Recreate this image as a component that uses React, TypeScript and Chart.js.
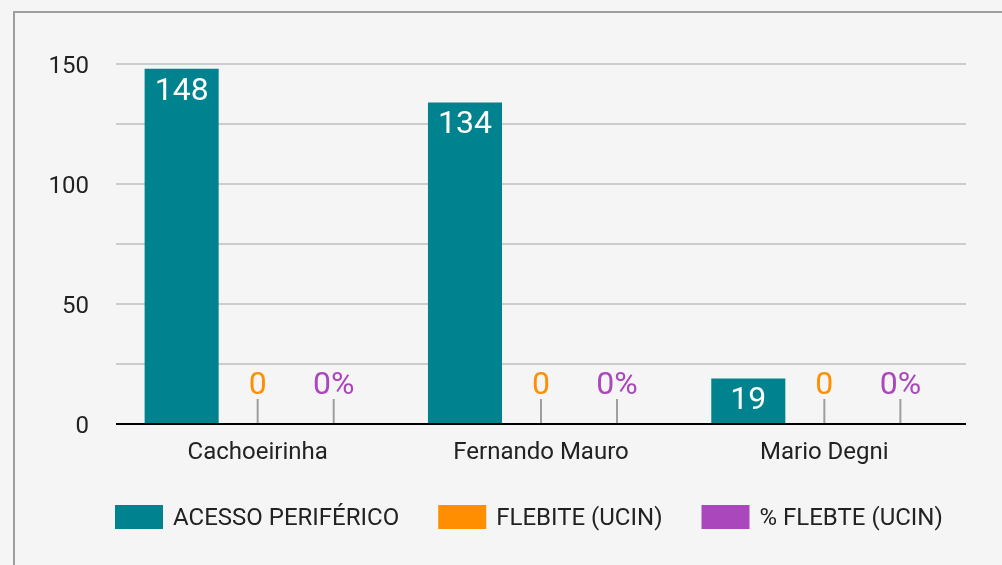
import React, { useEffect, useRef } from 'react';
import { Chart, registerables } from 'chart.js';

Chart.register(...registerables);

const categories = ['Cachoeirinha', 'Fernando Mauro', 'Mario Degni'];
const acessoPeriferico = [148, 134, 19];
const flebiteUcin = [0, 0, 0];
const percentFlebteUcin = [0, 0, 0];
const seriesLabels = ['ACESSO PERIFÉRICO', 'FLEBITE (UCIN)', '% FLEBTE (UCIN)'];
const seriesColors = ['#00838f', '#ff8f00', '#ab47bc'];
const seriesSuffix = ['', '', '%'];
const yTickLabels = [0, 50, 100, 150];

const FONT = 'Roboto';

const annotationPlugin = {
  id: 'barAnnotations',
  afterDatasetsDraw(chart: any) {
    const ctx = chart.ctx;
    const base = chart.scales.y.getPixelForValue(0);
    chart.data.datasets.forEach((ds: any, di: number) => {
      const meta = chart.getDatasetMeta(di);
      meta.data.forEach((el: any, i: number) => {
        const v = ds.data[i];
        const text = `${v}${seriesSuffix[di]}`;
        ctx.save();
        ctx.font = `32px ${FONT}`;
        ctx.textAlign = 'center';
        ctx.textBaseline = 'alphabetic';
        if (v === 0) {
          ctx.strokeStyle = '#9e9e9e';
          ctx.lineWidth = 2;
          ctx.beginPath();
          ctx.moveTo(el.x, base - 1);
          ctx.lineTo(el.x, base - 25);
          ctx.stroke();
          ctx.fillStyle = seriesColors[di];
          ctx.fillText(text, el.x, base - 30);
        } else {
          ctx.fillStyle = '#ffffff';
          ctx.fillText(text, el.x, el.y + 31);
        }
        ctx.restore();
      });
    });
  },
};

const yLabelPlugin = {
  id: 'yLabels',
  afterDraw(chart: any) {
    const ctx = chart.ctx;
    const y = chart.scales.y;
    ctx.save();
    ctx.font = `24px ${FONT}`;
    ctx.fillStyle = '#222222';
    ctx.textAlign = 'right';
    ctx.textBaseline = 'alphabetic';
    yTickLabels.forEach((v) => {
      ctx.fillText(String(v), chart.chartArea.left - 27, y.getPixelForValue(v) + 9);
    });
    ctx.restore();
  },
};

const legendPlugin = {
  id: 'customLegend',
  afterDraw(chart: any) {
    const ctx = chart.ctx;
    const area = chart.chartArea;
    let x = area.left - 1;
    const boxTop = area.bottom + 81;
    ctx.save();
    ctx.font = `24px ${FONT}`;
    ctx.textBaseline = 'alphabetic';
    ctx.textAlign = 'left';
    chart.data.datasets.forEach((ds: any) => {
      ctx.fillStyle = ds.backgroundColor;
      ctx.fillRect(x, boxTop, 48, 24);
      ctx.fillStyle = '#222222';
      const tx = x + 58;
      ctx.fillText(ds.label, tx, boxTop + 20);
      x = tx + ctx.measureText(ds.label).width + 39;
    });
    ctx.restore();
  },
};

export default function App() {
  const canvasRef = useRef<HTMLCanvasElement | null>(null);

  useEffect(() => {
    if (!canvasRef.current) return;
    Chart.defaults.font.family = FONT;
    const seriesData = [acessoPeriferico, flebiteUcin, percentFlebteUcin];
    const chart = new Chart(canvasRef.current, {
      type: 'bar',
      data: {
        labels: categories,
        datasets: seriesData.map((d, i) => ({
          label: seriesLabels[i],
          data: d,
          backgroundColor: seriesColors[i],
          borderWidth: 0,
          categoryPercentage: 0.805,
          barPercentage: 0.974,
        })),
      },
      options: {
        responsive: false,
        animation: false,
        devicePixelRatio: 1,
        layout: { padding: { left: 0, right: 36, top: 64, bottom: 99 } },
        plugins: {
          legend: { display: false },
          tooltip: { enabled: false },
        },
        scales: {
          x: {
            grid: { display: false },
            border: { display: false },
            ticks: {
              color: '#222222',
              font: { size: 24, family: FONT },
              padding: 7,
              maxRotation: 0,
            },
            afterFit(scale: any) {
              scale.height = 42;
            },
          },
          y: {
            min: 0,
            max: 150,
            border: { display: false },
            grid: {
              drawTicks: false,
              lineWidth: 2,
              color: (c: any) => (c.tick && c.tick.value === 0 ? '#000000' : '#cccccc'),
            },
            ticks: {
              stepSize: 25,
              display: false,
            },
            afterFit(scale: any) {
              scale.width = 116;
            },
          },
        },
      },
      plugins: [annotationPlugin, yLabelPlugin, legendPlugin],
    });
    return () => chart.destroy();
  }, []);

  return (
    <div
      style={{
        position: 'fixed',
        left: 0,
        top: 0,
        width: 1002,
        height: 565,
        background: '#f5f5f5',
        overflow: 'hidden',
      }}
    >
      <div
        style={{
          position: 'absolute',
          left: 13,
          top: 11,
          width: 1100,
          height: 700,
          borderLeft: '2px solid #9e9e9e',
          borderTop: '2px solid #9e9e9e',
        }}
      />
      <canvas
        ref={canvasRef}
        width={1002}
        height={565}
        style={{ position: 'absolute', left: 0, top: 0, width: 1002, height: 565 }}
      />
    </div>
  );
}
